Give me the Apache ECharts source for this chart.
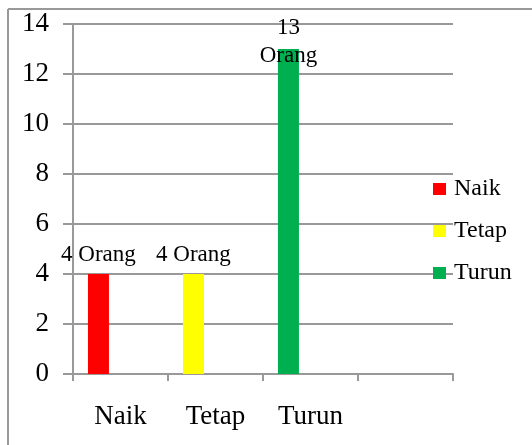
<!DOCTYPE html>
<html>
<head>
<meta charset="utf-8">
<script src="https://cdn.jsdelivr.net/npm/echarts@6/dist/echarts.min.js"></script>
<style>
  html, body { margin: 0; padding: 0; background: #fff; }
  #chart { width: 532px; height: 445px; }
</style>
</head>
<body>
<div id="chart"></div>
<script>
// Categories along the x axis (the last slot is left empty)
const categories = ['Naik', 'Tetap', 'Turun', ''];
// Number of people per group
const naikValues  = [4, '-', '-', '-'];
const tetapValues = ['-', 4, '-', '-'];
const turunValues = ['-', '-', 13, '-'];
// Y axis ticks
const yTicks = { min: 0, max: 14, step: 2 };
const unitText = 'Orang';

const serif = '"Liberation Serif", "Times New Roman", serif';
const gridColor = '#999999';

const chart = echarts.init(document.getElementById('chart'));

function barSeries(name, data, color, labelCfg) {
  return {
    name: name,
    type: 'bar',
    stack: 'people',
    data: data,
    barWidth: 21,
    barGap: '110%',
    itemStyle: { color: color },
    label: Object.assign({
      show: true,
      position: 'top',
      color: '#000',
      fontFamily: serif,
      fontSize: 23,
      distance: 8,
      formatter: p => p.value + ' ' + unitText
    }, labelCfg || {})
  };
}

chart.setOption({
  animation: false,
  backgroundColor: '#fff',
  graphic: [
    { type: 'line', shape: { x1: 8, y1: 9, x2: 532, y2: 9 }, style: { stroke: gridColor, lineWidth: 2 } },
    { type: 'line', shape: { x1: 8, y1: 9, x2: 8, y2: 445 }, style: { stroke: gridColor, lineWidth: 2 } }
  ],
  grid: { left: 73, top: 24, width: 380, height: 350, containLabel: false },
  legend: {
    orient: 'vertical',
    left: 428,
    top: 172,
    data: ['Naik', 'Tetap', 'Turun'],
    icon: 'rect',
    itemWidth: 13,
    itemHeight: 12,
    itemGap: 18,
    textStyle: { fontFamily: serif, fontSize: 24, color: '#000', padding: [0, 0, 0, 3] }
  },
  xAxis: {
    type: 'category',
    data: categories,
    boundaryGap: true,
    axisLine: { lineStyle: { color: gridColor, width: 2 } },
    axisTick: { show: true, length: 7, lineStyle: { color: gridColor, width: 2 } },
    axisLabel: { color: '#000', fontFamily: serif, fontSize: 27, margin: 29 }
  },
  yAxis: {
    type: 'value',
    min: yTicks.min,
    max: yTicks.max,
    interval: yTicks.step,
    axisLine: { show: true, lineStyle: { color: gridColor, width: 2 } },
    axisTick: { show: true, length: 10, lineStyle: { color: gridColor, width: 2 } },
    splitLine: { lineStyle: { color: gridColor, width: 2 } },
    axisLabel: { color: '#000', fontFamily: serif, fontSize: 27, margin: 24 }
  },
  series: [
    barSeries('Naik', naikValues, '#ff0000'),
    barSeries('Tetap', tetapValues, '#ffff00'),
    barSeries('Turun', turunValues, '#00b050', {
      distance: 5,
      lineHeight: 28,
      offset: [0, 26],
      formatter: p => p.value + '\n' + unitText
    }),
    // empty companion slot that keeps bars left of each category centre
    { name: 'spacer', type: 'bar', data: ['-', '-', '-', '-'], barWidth: 21, barGap: '110%', silent: true }
  ]
});
</script>
</body>
</html>
